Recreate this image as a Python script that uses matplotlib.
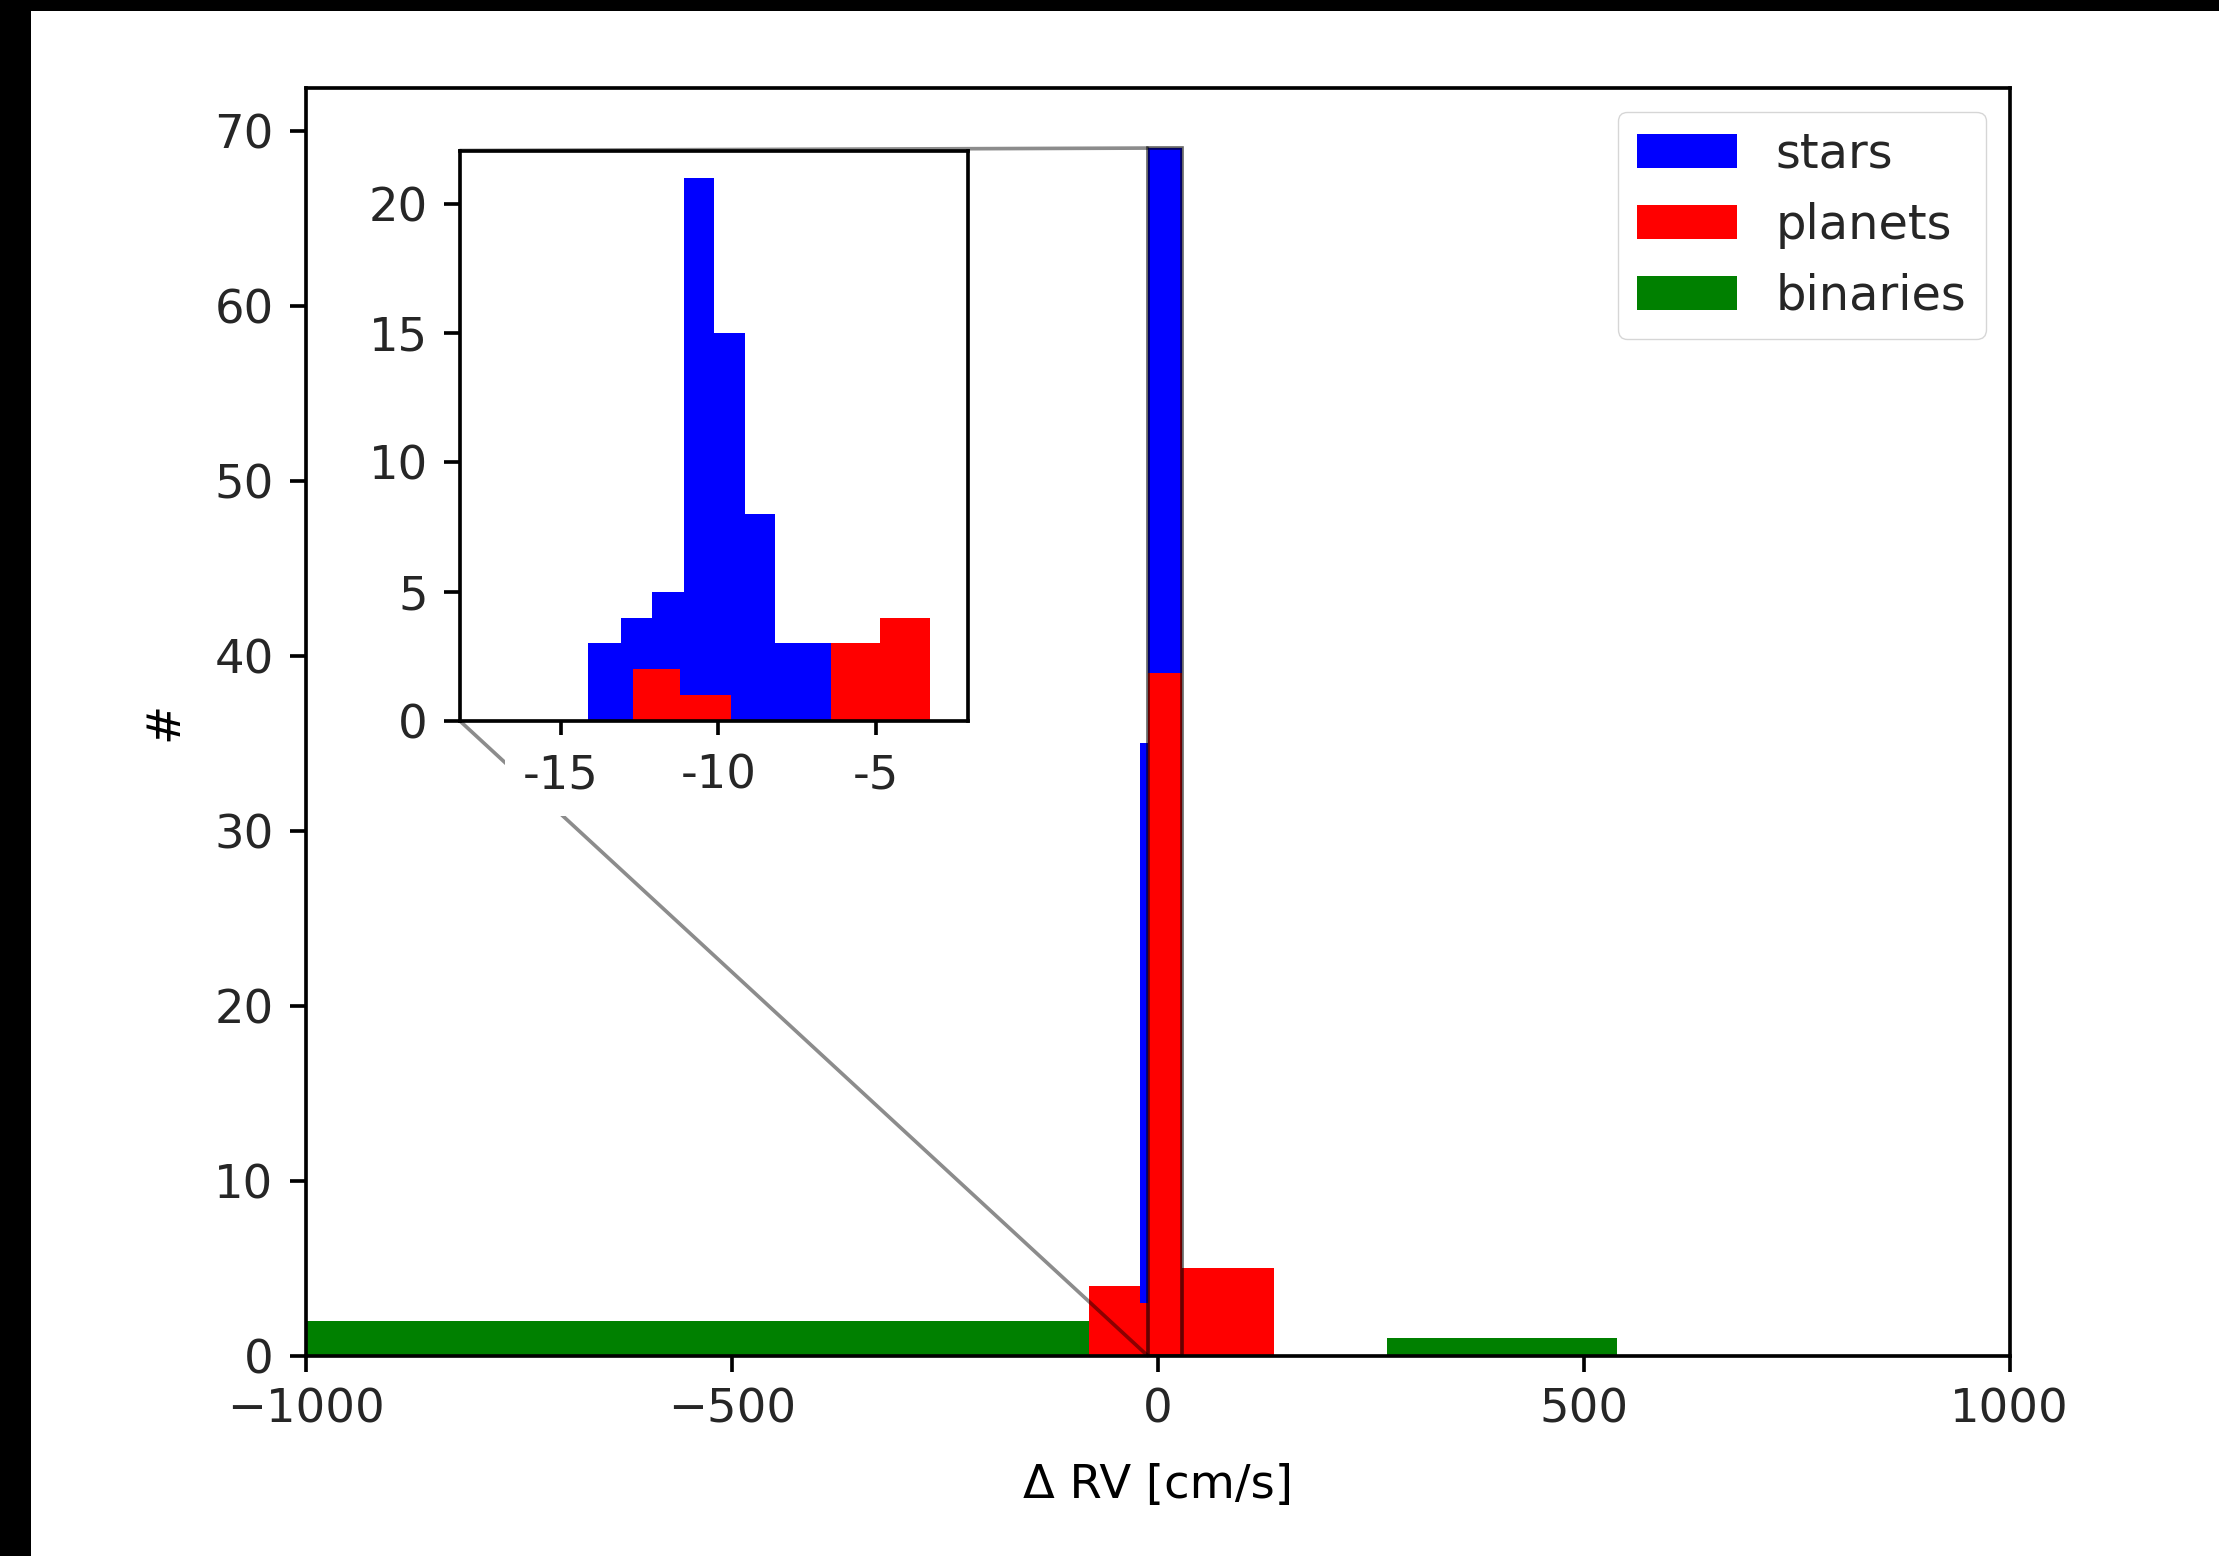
import matplotlib
matplotlib.use("Agg")
import matplotlib.pyplot as plt
import numpy as np
from matplotlib.patches import Rectangle, ConnectionPatch

# ---------------- data ----------------
# main panel
binaries_edges = [-1000, -81, 269, 539]
binaries_counts = [2, 0, 1]

planets_edges = [-81, -11.9, 28.3, 136]
planets_counts = [4, 39, 5]

stars_edges = [-21, -11.9, 28.3]
stars_counts = [32, 30]
stars_bottom = [3, 39]

# inset panel
stars_in_edges = [-14.15, -13.1, -12.1, -11.1, -10.15, -9.15, -8.2, -7.2, -6.2]
stars_in_counts = [3, 4, 5, 21, 15, 8, 3, 3]
planets_in_edges = [-12.72, -11.2, -9.6, -8.0, -6.43, -4.85, -3.29]
planets_in_counts = [2, 1, 0, 0, 3, 4]

main_xticks = [-1000, -500, 0, 500, 1000]
main_yticks = [0, 10, 20, 30, 40, 50, 60, 70]
inset_xticks = [-15, -10, -5]
inset_xticklabels = ["-15", "-10", "-5"]
inset_yticks = [0, 5, 10, 15, 20]
inset_yticklabels = ["0", "5", "10", "15", "20"]

# ---------------- style ----------------
S = 3.3
FS = 33.5
plt.rcParams.update({
    "font.family": ["DejaVu Sans"],
    "font.size": FS,
    "axes.linewidth": 0.8 * S,
    "xtick.major.width": 0.8 * S,
    "ytick.major.width": 0.8 * S,
    "xtick.major.size": 3.5 * S,
    "ytick.major.size": 3.5 * S,
    "xtick.major.pad": 3.5 * S,
    "ytick.major.pad": 3.5 * S,
    "text.color": "#262626",
    "xtick.labelcolor": "#262626",
    "ytick.labelcolor": "#262626",
})

W, H = 2219, 1556
fig = plt.figure(figsize=(W / 100, H / 100), dpi=100)
fig.patch.set_facecolor("black")
fig.add_artist(Rectangle((31 / W, 0), 1, 1 - 11 / H, transform=fig.transFigure,
                         facecolor="white", edgecolor="none", zorder=-10))

ax = fig.add_axes([305.7 / W, 1 - 1355.6 / H, (2009.6 - 305.7) / W, (1355.6 - 87.7) / H])


def centers(e):
    e = np.asarray(e, float)
    return (e[:-1] + e[1:]) / 2


_, _, p_bin = ax.hist(centers(binaries_edges), bins=binaries_edges, weights=binaries_counts,
                      color="green", label="binaries")
_, _, p_pl = ax.hist(centers(planets_edges), bins=planets_edges, weights=planets_counts,
                     color="red", label="planets")
_, _, p_st = ax.hist(centers(stars_edges), bins=stars_edges, weights=stars_counts,
                     bottom=stars_bottom, color="blue", label="stars")

ax.set_xlim(-1000, 1000)
top_total = max(np.asarray(stars_counts) + np.asarray(stars_bottom))
ax.set_ylim(0, top_total * 1.05)
ax.set_xticks(main_xticks)
ax.set_yticks(main_yticks)
ax.set_xlabel("Δ RV [cm/s]", labelpad=22)
ax.set_ylabel("#", labelpad=19)

ax.legend([p_st[0], p_pl[0], p_bin[0]], ["stars", "planets", "binaries"],
          loc="upper right", fontsize=34.5, labelspacing=0.5, handlelength=2.1)

# zoom indicator rectangle in main axes
rx0, rx1 = stars_edges[1], stars_edges[2]
rect = Rectangle((rx0, 0), rx1 - rx0, top_total, fill=False,
                 edgecolor="black", alpha=0.6, lw=0.8 * S, zorder=5)
ax.add_patch(rect)

# inset
axins = fig.add_axes([460 / W, 1 - 721 / H, (968 - 460) / W, (721 - 150.5) / H])
axins.hist(centers(stars_in_edges), bins=stars_in_edges, weights=stars_in_counts, color="blue")
axins.hist(centers(planets_in_edges), bins=planets_in_edges, weights=planets_in_counts, color="red")
axins.set_xlim(-18.2, -2.07)
axins.set_ylim(0, max(stars_in_counts) * 1.05)
axins.set_xticks(inset_xticks)
axins.set_xticklabels(inset_xticklabels,
                      bbox=dict(facecolor="white", edgecolor="none", pad=13))
axins.set_yticks(inset_yticks)
axins.set_yticklabels(inset_yticklabels)

# connectors (drawn in main axes, beneath inset)
for (xa, ya), (xb, yb) in [((0, 1), (rx0, top_total)), ((0, 0), (rx0, 0))]:
    cp = ConnectionPatch(xyA=(xa, ya), coordsA=axins.transAxes,
                         xyB=(xb, yb), coordsB=ax.transData,
                         color="black", alpha=0.45, lw=0.8 * S)
    ax.add_artist(cp)

fig.savefig("out.png", dpi=100, facecolor=fig.get_facecolor())
